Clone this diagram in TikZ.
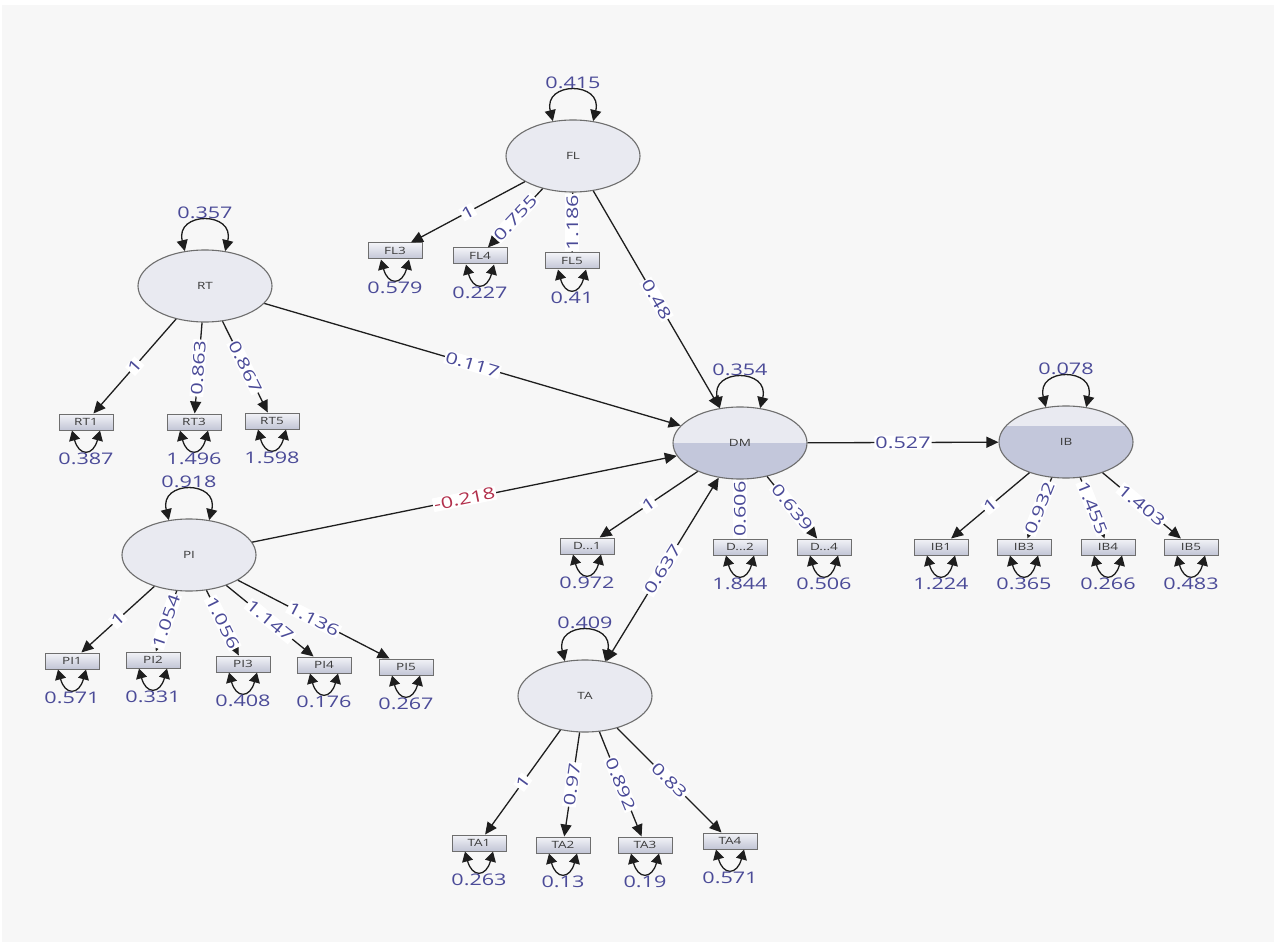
\documentclass[tikz,border=0pt]{standalone}
\usepackage{fontspec}
\setmainfont{Open Sans}
\newfontfamily\numfont[FakeStretch=1.35]{Open Sans}
\usetikzlibrary{shapes.geometric,arrows.meta,calc}
\definecolor{bg}{HTML}{F7F7F7}
\definecolor{latfill}{HTML}{E9EAF1}
\definecolor{latdark}{HTML}{C3C7DB}
\definecolor{latborder}{HTML}{6E6E6E}
\definecolor{boxtop}{HTML}{F2F3F7}
\definecolor{boxbot}{HTML}{C2C5D6}
\definecolor{numc}{HTML}{4B4B98}
\definecolor{negc}{HTML}{B2304C}
\definecolor{txtc}{HTML}{3A3A3A}
\definecolor{linec}{HTML}{1E1E1E}
\tikzset{
  lat/.style={ellipse, draw=latborder, line width=1.1pt, fill=latfill,
    minimum width=134pt, minimum height=72pt, inner sep=0pt,
    font=\numfont\fontsize{10}{12}\selectfont, text=txtc},
  latsplit/.style={lat, path picture={\fill[latdark]
    ([yshift=#1]path picture bounding box.west) rectangle (path picture bounding box.south east);}},
  ind/.style={rectangle, draw=latborder, line width=1pt, top color=boxtop, bottom color=boxbot,
    minimum width=54pt, minimum height=16pt, inner sep=0pt,
    font=\numfont\fontsize{10}{12}\selectfont, text=txtc},
  arr/.style={draw=linec, line width=1.3pt, -{Triangle[length=12pt,width=11pt]}},
  darr/.style={draw=linec, line width=1.3pt, {Triangle[length=12pt,width=11pt]}-{Triangle[length=12pt,width=11pt]}},
  latloop/.style={draw=linec, line width=1.3pt, {Triangle[length=11pt,width=11pt]}-{Triangle[length=11pt,width=11pt]}},
  indloop/.style={draw=linec, line width=1.3pt, {Triangle[length=10pt,width=11pt]}-{Triangle[length=10pt,width=11pt]}},
  lab/.style={fill=white, inner sep=1pt, text=numc, font=\numfont\fontsize{16}{18}\selectfont, sloped},
  labv/.style={fill=white, inner sep=1pt, text=numc, font=\numfont\fontsize{16}{18}\selectfont, rotate=90},
  var/.style={inner sep=0pt, text=numc, font=\numfont\fontsize{16}{18}\selectfont},
}
\newcommand\latvar[2]{%
  \draw[latloop] (#1.120) .. controls +(-10,-40) and +(10,-40) .. (#1.60);
  \node[var] (#1v) at ($(#1)+(0,-73)$) {#2};}
\newcommand\indvar[2]{%
  \draw[indloop] ([xshift=-14pt]#1.south) .. controls +(7,26) and +(-7,26) .. ([xshift=14pt]#1.south);
  \node[var] (#1v) at ($(#1)+(0,37)$) {#2};}
\begin{document}
\begin{tikzpicture}[x={(1pt,0)}, y={(0,-1pt)}]
\fill[white] (0,0) rectangle (1274,949);
\fill[bg] (2,5) rectangle (1274,942);
\useasboundingbox (0,0) rectangle (1274,949);

% latent variables
\node[lat] (FL) at (573,156) {FL};
\node[lat] (RT) at (205,286) {RT};
\node[latsplit=0pt] (DM) at (740,443) {};
\node[latsplit=16pt] (IB) at (1066,442) {};
\node[lat] (PI) at (189,555) {PI};
\node[lat] (TA) at (585,696) {TA};
\node[text=txtc, font=\numfont\fontsize{10}{12}\selectfont] (DMt) at (DM) {DM};
\node[text=txtc, font=\numfont\fontsize{10}{12}\selectfont] (IBt) at (IB) {IB};

% indicators
\node[ind] (FL3) at (395,251) {FL3};
\node[ind] (FL4) at (480,256) {FL4};
\node[ind] (FL5) at (572,261) {FL5};
\node[ind] (RT1) at (86,422) {RT1};
\node[ind] (RT3) at (194,422) {RT3};
\node[ind] (RT5) at (272,421) {RT5};
\node[ind] (D1) at (587,546) {D...1};
\node[ind] (D2) at (740,547) {D...2};
\node[ind] (D4) at (824,547) {D...4};
\node[ind] (IB1) at (941,547) {IB1};
\node[ind] (IB3) at (1024,547) {IB3};
\node[ind] (IB4) at (1108,547) {IB4};
\node[ind] (IB5) at (1191,547) {IB5};
\node[ind] (PI1) at (72,661) {PI1};
\node[ind] (PI2) at (153,660) {PI2};
\node[ind] (PI3) at (243,664) {PI3};
\node[ind] (PI4) at (324,665) {PI4};
\node[ind] (PI5) at (406,667) {PI5};
\node[ind] (TA1) at (479,843) {TA1};
\node[ind] (TA2) at (563,845) {TA2};
\node[ind] (TA3) at (645,845) {TA3};
\node[ind] (TA4) at (730,841) {TA4};

% loadings
\draw[arr] (FL) -- node[lab]{1} (FL3);
\draw[arr] (FL) -- node[lab]{0.755} (FL4);
\draw[arr] (FL) -- node[labv]{1.186} (FL5);
\draw[arr] (RT) -- node[lab]{1} (RT1);
\draw[arr] (RT) -- node[labv, rotate=-4]{0.863} (RT3);
\draw[arr] (RT) -- node[lab]{0.867} (RT5);
\draw[arr] (DM) -- node[lab]{1} (D1);
\draw[arr] (DM) -- node[labv]{0.606} (D2);
\draw[arr] (DM) -- node[lab]{0.639} (D4);
\draw[arr] (IB) -- node[lab]{1} (IB1);
\draw[arr] (IB) -- node[lab]{0.932} (IB3);
\draw[arr] (IB) -- node[lab]{1.455} (IB4);
\draw[arr] (IB) -- node[lab]{1.403} (IB5);
\draw[arr] (PI) -- node[lab]{1} (PI1);
\draw[arr] (PI) -- node[lab]{1.054} (PI2);
\draw[arr] (PI) -- node[lab]{1.056} (PI3);
\draw[arr] (PI) -- node[lab]{1.147} (PI4);
\draw[arr] (PI) -- node[lab]{1.136} (PI5);
\draw[arr] (TA) -- node[lab]{1} (TA1);
\draw[arr] (TA) -- node[labv, rotate=-8]{0.97} (TA2);
\draw[arr] (TA) -- node[lab]{0.892} (TA3);
\draw[arr] (TA) -- node[lab]{0.83} (TA4);

% structural paths
\draw[arr] (FL) -- node[lab]{0.48} (DM);
\draw[arr] (RT) -- node[lab]{0.117} (DM);
\draw[arr] (PI) -- node[lab, text=negc]{-0.218} (DM);
\draw[arr] (DM) -- node[lab]{0.527} (IB);
\draw[darr] (DM) -- node[lab]{0.637} (TA);

% latent variances
\latvar{FL}{0.415}
\latvar{RT}{0.357}
\latvar{DM}{0.354}
\latvar{IB}{0.078}
\latvar{PI}{0.918}
\latvar{TA}{0.409}

% residual variances
\indvar{FL3}{0.579}
\indvar{FL4}{0.227}
\indvar{FL5}{0.41}
\indvar{RT1}{0.387}
\indvar{RT3}{1.496}
\indvar{RT5}{1.598}
\indvar{D1}{0.972}
\indvar{D2}{1.844}
\indvar{D4}{0.506}
\indvar{IB1}{1.224}
\indvar{IB3}{0.365}
\indvar{IB4}{0.266}
\indvar{IB5}{0.483}
\indvar{PI1}{0.571}
\indvar{PI2}{0.331}
\indvar{PI3}{0.408}
\indvar{PI4}{0.176}
\indvar{PI5}{0.267}
\indvar{TA1}{0.263}
\indvar{TA2}{0.13}
\indvar{TA3}{0.19}
\indvar{TA4}{0.571}
\end{tikzpicture}
\end{document}
